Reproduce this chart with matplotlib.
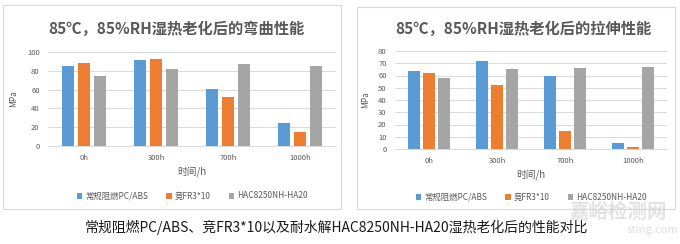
import matplotlib
matplotlib.use("Agg")
import matplotlib.pyplot as plt
from matplotlib.patches import Rectangle
import numpy as np

plt.rcParams['font.family'] = ['Noto Sans CJK SC', 'DejaVu Sans']

times = ["0h", "300h", "700h", "1000h"]
series = ["常规阻燃PC/ABS", "竞FR3*10", "HAC8250NH-HA20"]
colors = ["#5B9BD5", "#ED7D31", "#A5A5A5"]

# bending (flexural) strength, MPa
flex_pcabs = [85, 91, 61, 25]
flex_fr3 = [88, 93, 52, 15]
flex_hac = [75, 82, 87, 85]

# tensile strength, MPa
tens_pcabs = [64, 72, 60, 5]
tens_fr3 = [62, 52, 15, 2]
tens_hac = [58, 65, 66, 67]

W, H = 680, 244
fig = plt.figure(figsize=(W / 100, H / 100), dpi=100)
fig.patch.set_facecolor("white")


def fx(x):
    return x / W


def fy(y):
    return 1 - y / H


def panel(box, plot, ylim, ystep, data, title, title_x, bw, off, leg_y):
    bx0, by0, bx1, by1 = box
    fig.patches.append(Rectangle((fx(bx0), fy(by1)), fx(bx1 - bx0), (by1 - by0) / H,
                                 transform=fig.transFigure, fill=False,
                                 edgecolor="#D9D9D9", linewidth=0.8))
    px0, py_top, px1, py0 = plot
    ax = fig.add_axes([fx(px0), fy(py0), fx(px1 - px0), (py0 - py_top) / H])
    x = np.arange(len(times))
    for i, (vals, c) in enumerate(zip(data, colors)):
        ax.bar(x + (i - 1) * off, vals, width=bw, color=c, label=series[i], zorder=3)
    ax.set_xlim(-0.5, len(times) - 0.5)
    ax.set_ylim(0, ylim)
    ax.set_yticks(np.arange(0, ylim + 1, ystep))
    ax.set_xticks(x)
    ax.set_xticklabels(times)
    ax.tick_params(length=0, labelsize=5.5, labelcolor="#595959", pad=6)
    ax.grid(axis="y", color="#D9D9D9", linewidth=0.7, zorder=0)
    for s in ["top", "right", "left"]:
        ax.spines[s].set_visible(False)
    ax.spines["bottom"].set_color("#D9D9D9")
    ax.spines["bottom"].set_linewidth(0.7)
    ax.set_ylabel("MPa", fontsize=6, color="#595959", labelpad=6)
    ax.set_xlabel("时间/h", fontsize=7, color="#595959", labelpad=3)
    fig.text(fx(title_x), fy(29), title, fontsize=11, fontweight="bold",
             color="#595959", ha="left", va="center")
    leg = fig.legend(*ax.get_legend_handles_labels(), loc="center",
                     bbox_to_anchor=(fx((px0 + px1) / 2), fy(leg_y)), ncol=3,
                     frameon=False, fontsize=6, handlelength=0.7, handleheight=0.7,
                     handletextpad=0.3, columnspacing=2.2)
    for t in leg.get_texts():
        t.set_color("#595959")
    return ax


panel((3, 5, 341, 209), (48, 52, 336, 146), 100, 20,
      [flex_pcabs, flex_fr3, flex_hac], "85℃，85%RH湿热老化后的弯曲性能", 48,
      0.167, 0.222, 196)
panel((357, 7, 675, 209), (395, 51, 667, 149), 80, 10,
      [tens_pcabs, tens_fr3, tens_hac], "85℃，85%RH湿热老化后的拉伸性能", 395,
      0.176, 0.22, 197)

fig.text(fx(336), fy(227), "常规阻燃PC/ABS、竞FR3*10以及耐水解HAC8250NH-HA20湿热老化后的性能对比",
         fontsize=10, color="#1A1A1A", ha="center", va="center")

# watermark
fig.text(fx(618), fy(212), "嘉峪检测网", fontsize=14, color="#D0D0D0", alpha=0.6,
         ha="center", va="center", fontweight="bold")
fig.text(fx(678), fy(230), "sting.com", fontsize=8, color="#D0D0D0", alpha=0.7,
         ha="right", va="center", style="italic")

fig.savefig("out.png", dpi=100)
